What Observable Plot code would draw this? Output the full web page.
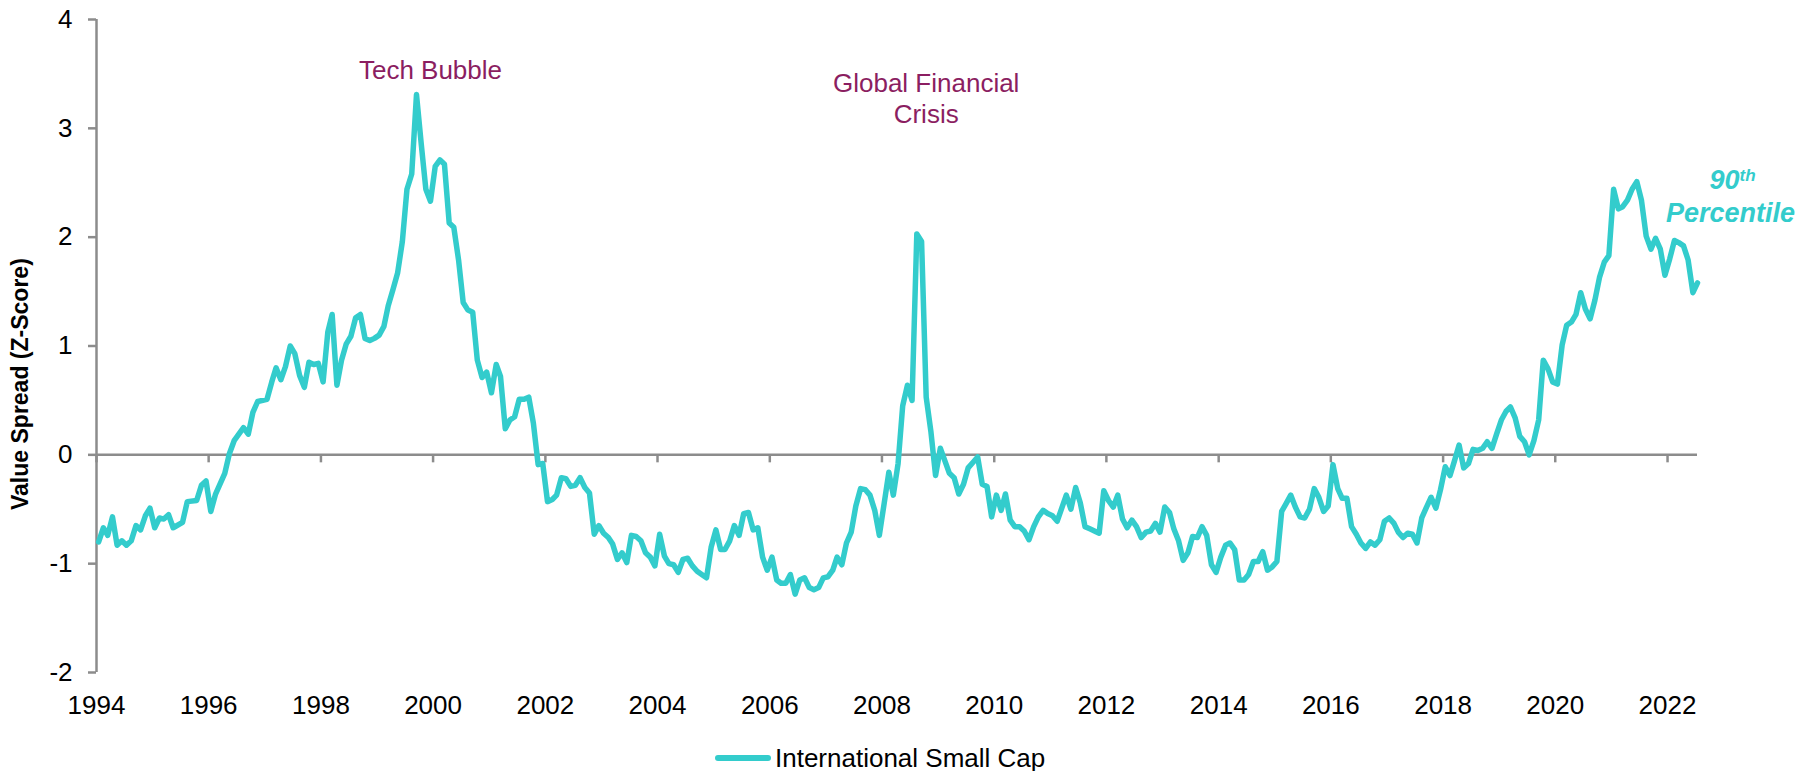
<!DOCTYPE html>
<html>
<head>
<meta charset="utf-8">
<script src="https://cdn.jsdelivr.net/npm/d3@7"></script>
<script src="https://cdn.jsdelivr.net/npm/@observablehq/plot@0.6"></script>
<style>
  html, body { margin: 0; padding: 0; background: #fff; }
  body { width: 1800px; height: 771px; overflow: hidden; font-family: "Liberation Sans", Arial, sans-serif; }
  #legend { position: relative; width: 1800px; height: 36px; }
  #legend .swatch { position: absolute; left: 715px; top: 20px; width: 56px; height: 6px; border-radius: 3px; background: #33CCCC; }
  #legend .label { position: absolute; left: 775px; top: 8px; font-size: 26px; line-height: 30px; color: #000; white-space: nowrap; }
</style>
</head>
<body>
<div id="chart"></div>
<div id="legend"><span class="swatch"></span><span class="label" id="legendLabel"></span></div>
<script>
// ---- data (monthly value spread, z-score) ----
const seriesName = "International Small Cap";
const dates = [
  "1994-01","1994-02","1994-03","1994-04","1994-05","1994-06","1994-07","1994-08","1994-09","1994-10","1994-11","1994-12",
  "1995-01","1995-02","1995-03","1995-04","1995-05","1995-07","1995-08","1995-10","1995-11","1995-12",
  "1996-01","1996-02","1996-04","1996-05","1996-06","1996-08","1996-09","1996-10","1996-11",
  "1997-01","1997-02","1997-03","1997-04","1997-05","1997-06","1997-07","1997-08","1997-09","1997-10","1997-11","1997-12",
  "1998-01","1998-02","1998-03","1998-04","1998-05","1998-06","1998-07","1998-08","1998-09","1998-10","1998-11","1998-12",
  "1999-01","1999-02","1999-03","1999-04","1999-05","1999-06","1999-07","1999-08","1999-09","1999-10","1999-11","1999-12",
  "2000-01","2000-02","2000-03","2000-04","2000-05","2000-06","2000-07","2000-08","2000-09","2000-10","2000-11","2000-12",
  "2001-01","2001-02","2001-03","2001-04","2001-05","2001-06","2001-07","2001-08","2001-09","2001-10","2001-11","2001-12",
  "2002-01","2002-02","2002-03","2002-04","2002-05","2002-06","2002-07","2002-08","2002-09","2002-10","2002-11","2002-12",
  "2003-01","2003-02","2003-03","2003-04","2003-05","2003-06","2003-07","2003-08","2003-09","2003-10","2003-11","2003-12",
  "2004-01","2004-02","2004-03","2004-04","2004-05","2004-06","2004-07","2004-08","2004-09","2004-10","2004-11","2004-12",
  "2005-01","2005-02","2005-03","2005-04","2005-05","2005-06","2005-07","2005-08","2005-09","2005-10","2005-11","2005-12",
  "2006-01","2006-02","2006-03","2006-04","2006-05","2006-06","2006-07","2006-08","2006-09","2006-10","2006-11","2006-12",
  "2007-01","2007-02","2007-03","2007-04","2007-05","2007-06","2007-07","2007-08","2007-09","2007-10","2007-11","2007-12",
  "2008-01","2008-02","2008-03","2008-04","2008-05","2008-06","2008-07","2008-08","2008-09","2008-10","2008-11","2008-12",
  "2009-01","2009-02","2009-03","2009-04","2009-05","2009-06","2009-07","2009-08","2009-09","2009-10","2009-11","2009-12",
  "2010-01","2010-02","2010-03","2010-04","2010-05","2010-06","2010-07","2010-08","2010-09","2010-10","2010-11","2010-12",
  "2011-01","2011-02","2011-04","2011-05","2011-06","2011-07","2011-08","2011-09","2011-10","2011-11","2011-12",
  "2012-01","2012-02","2012-03","2012-04","2012-05","2012-06","2012-07","2012-08","2012-09","2012-10","2012-11","2012-12",
  "2013-01","2013-02","2013-03","2013-04","2013-05","2013-06","2013-07","2013-08","2013-09","2013-10","2013-11","2013-12",
  "2014-01","2014-02","2014-03","2014-04","2014-05","2014-06","2014-07","2014-08","2014-09","2014-10","2014-11","2014-12",
  "2015-01","2015-02","2015-03","2015-04","2015-05","2015-06","2015-07","2015-08","2015-09","2015-10","2015-11","2015-12",
  "2016-01","2016-02","2016-03","2016-04","2016-05","2016-06","2016-07","2016-08","2016-09","2016-10","2016-11","2016-12",
  "2017-01","2017-02","2017-03","2017-04","2017-05","2017-06","2017-07","2017-08","2017-09","2017-10","2017-11","2017-12",
  "2018-01","2018-02","2018-03","2018-04","2018-05","2018-06","2018-07","2018-08","2018-09","2018-10","2018-11","2018-12",
  "2019-01","2019-02","2019-03","2019-04","2019-05","2019-06","2019-07","2019-08","2019-09","2019-10","2019-11","2019-12",
  "2020-01","2020-02","2020-03","2020-04","2020-05","2020-06","2020-07","2020-08","2020-09","2020-10","2020-11","2020-12",
  "2021-01","2021-02","2021-03","2021-04","2021-05","2021-06","2021-07","2021-08","2021-09","2021-10","2021-11","2021-12",
  "2022-01","2022-02","2022-03","2022-04","2022-05","2022-06","2022-07"
];
const spread = [
  -0.80,-0.67,-0.74,-0.57,-0.83,-0.79,-0.83,-0.79,-0.65,-0.69,-0.56,-0.49,
  -0.67,-0.58,-0.59,-0.55,-0.67,-0.62,-0.43,-0.42,-0.28,-0.24,
  -0.52,-0.36,-0.17,0.01,0.13,0.25,0.19,0.39,0.49,
  0.51,0.67,0.80,0.69,0.81,1.00,0.93,0.73,0.62,0.85,0.83,0.84,
  0.67,1.13,1.29,0.64,0.87,1.02,1.09,1.26,1.29,1.07,1.05,1.07,
  1.10,1.18,1.37,1.52,1.67,1.96,2.44,2.58,3.31,2.87,2.44,2.33,
  2.65,2.71,2.67,2.13,2.09,1.79,1.40,1.33,1.31,0.87,0.71,0.76,
  0.57,0.83,0.72,0.24,0.32,0.35,0.51,0.51,0.53,0.29,-0.09,-0.08,
  -0.43,-0.41,-0.37,-0.21,-0.22,-0.29,-0.28,-0.21,-0.30,-0.35,-0.73,-0.65,
  -0.72,-0.76,-0.82,-0.96,-0.90,-0.99,-0.74,-0.75,-0.79,-0.90,-0.94,-1.02,
  -0.73,-0.93,-1.00,-1.01,-1.08,-0.96,-0.95,-1.02,-1.07,-1.10,-1.13,-0.85,
  -0.69,-0.87,-0.87,-0.79,-0.65,-0.74,-0.54,-0.53,-0.69,-0.67,-0.94,-1.06,
  -0.94,-1.15,-1.18,-1.18,-1.10,-1.28,-1.15,-1.13,-1.22,-1.24,-1.22,-1.13,
  -1.12,-1.06,-0.94,-1.01,-0.81,-0.71,-0.47,-0.31,-0.32,-0.37,-0.51,-0.74,
  -0.45,-0.16,-0.37,-0.08,0.45,0.64,0.50,2.03,1.96,0.53,0.21,-0.19,
  0.06,-0.06,-0.17,-0.21,-0.36,-0.27,-0.12,-0.07,-0.02,-0.27,-0.29,-0.57,
  -0.37,-0.51,-0.36,-0.60,-0.66,-0.66,-0.70,-0.78,-0.66,-0.57,-0.51,-0.54,
  -0.56,-0.61,-0.37,-0.50,-0.30,-0.44,-0.66,-0.68,-0.70,-0.72,-0.33,
  -0.42,-0.48,-0.37,-0.59,-0.67,-0.60,-0.66,-0.76,-0.71,-0.70,-0.63,-0.71,
  -0.48,-0.53,-0.68,-0.79,-0.97,-0.90,-0.75,-0.76,-0.66,-0.74,-1.01,-1.08,
  -0.94,-0.83,-0.81,-0.87,-1.15,-1.15,-1.10,-0.98,-0.98,-0.89,-1.06,-1.03,
  -0.98,-0.52,-0.45,-0.37,-0.48,-0.57,-0.58,-0.50,-0.31,-0.39,-0.52,-0.47,
  -0.09,-0.31,-0.40,-0.40,-0.66,-0.73,-0.81,-0.86,-0.80,-0.83,-0.78,-0.61,
  -0.58,-0.63,-0.71,-0.76,-0.72,-0.73,-0.81,-0.58,-0.48,-0.39,-0.49,-0.32,
  -0.11,-0.19,-0.06,0.09,-0.12,-0.08,0.05,0.04,0.06,0.12,0.06,0.19,
  0.32,0.40,0.44,0.34,0.17,0.12,0.00,0.13,0.32,0.87,0.79,0.67,
  0.65,1.01,1.19,1.22,1.29,1.49,1.34,1.25,1.42,1.63,1.77,1.83,
  2.44,2.26,2.28,2.34,2.44,2.51,2.34,2.01,1.89,1.99,1.89,1.65,
  1.80,1.97,1.95,1.92,1.79,1.49,1.58
];

// axis ticks
const xTickYears = [1994,1996,1998,2000,2002,2004,2006,2008,2010,2012,2014,2016,2018,2020,2022];
const yTickValues = [-2,-1,0,1,2,3,4];
const yAxisTitle = "Value Spread (Z-Score)";

// annotations
const annoLabels = ["Tech Bubble", "Global Financial\nCrisis"];
const annoDates = ["1999-12", "2008-10"];
const annoValues = [3.54, 3.28];
const pctDates = ["2023-04", "2023-02"];
const pctValues = [2.52, 2.22];

// ---- build ----
const parseMonth = s => { const [y, m] = s.split("-").map(Number); return new Date(Date.UTC(y, m - 1, 15)); };
const data = dates.map((d, i) => ({date: parseMonth(d), value: spread[i]}));
const xTicks = xTickYears.map(y => new Date(Date.UTC(y, 0, 1)));
const xStart = xTicks[0];
const xEnd = data[data.length - 1].date;
const annos = annoLabels.map((t, i) => ({text: t, date: parseMonth(annoDates[i]), value: annoValues[i]}));

const teal = "#33CCCC";
const purple = "#8B1E61";
const axisGray = "#8C8C8C";

const chart = Plot.plot({
  width: 1800,
  height: 735,
  marginLeft: 96,
  marginRight: 103,
  marginTop: 19,
  marginBottom: 63,
  style: {fontFamily: "'Liberation Sans', Arial, sans-serif", background: "#fff", color: "#000", overflow: "visible"},
  x: {type: "utc", domain: [xStart, xEnd]},
  y: {domain: [-2, 4]},
  marks: [
    Plot.ruleY([0], {stroke: axisGray, strokeWidth: 2.5}),
    Plot.ruleX([xStart], {stroke: axisGray, strokeWidth: 2.5}),
    Plot.ruleX(xTicks, {x: d => d, y1: 0, y2: 0, insetBottom: -8, stroke: axisGray, strokeWidth: 2.5}),
    Plot.axisY({ticks: yTickValues, tickSize: 8, tickPadding: 16, fontSize: 26, stroke: axisGray, strokeWidth: 2.5, fill: "#000", tickFormat: d => String(d), label: null}),
    Plot.axisX({ticks: xTicks, tickSize: 0, tickPadding: 23, fontSize: 26, fill: "#000", tickFormat: d => String(d.getUTCFullYear()), label: null}),
    Plot.text([yAxisTitle], {frameAnchor: "left", y: 0.65, dx: -76, rotate: -90, fontSize: 23, fontWeight: "bold", fill: "#000", textAnchor: "middle"}),
    Plot.line(data, {x: "date", y: "value", stroke: teal, strokeWidth: 5.5, strokeLinejoin: "round", strokeLinecap: "round"}),
    Plot.text(annos, {x: "date", y: "value", text: "text", fill: purple, fontSize: 26, lineHeight: 1.19, textAnchor: "middle", lineAnchor: "middle"}),
    Plot.text(["90"], {x: () => parseMonth(pctDates[0]), y: () => pctValues[0], textAnchor: "end", fill: teal, fontSize: 27, fontWeight: "bold", fontStyle: "italic"}),
    Plot.text(["th"], {x: () => parseMonth(pctDates[0]), y: () => pctValues[0] + 0.05, textAnchor: "start", fill: teal, fontSize: 17, fontWeight: "bold", fontStyle: "italic"}),
    Plot.text(["Percentile"], {x: () => parseMonth(pctDates[1]), y: () => pctValues[1], textAnchor: "middle", fill: teal, fontSize: 27, fontWeight: "bold", fontStyle: "italic"})
  ]
});
document.getElementById("chart").appendChild(chart);
document.getElementById("legendLabel").textContent = seriesName;
</script>
</body>
</html>
